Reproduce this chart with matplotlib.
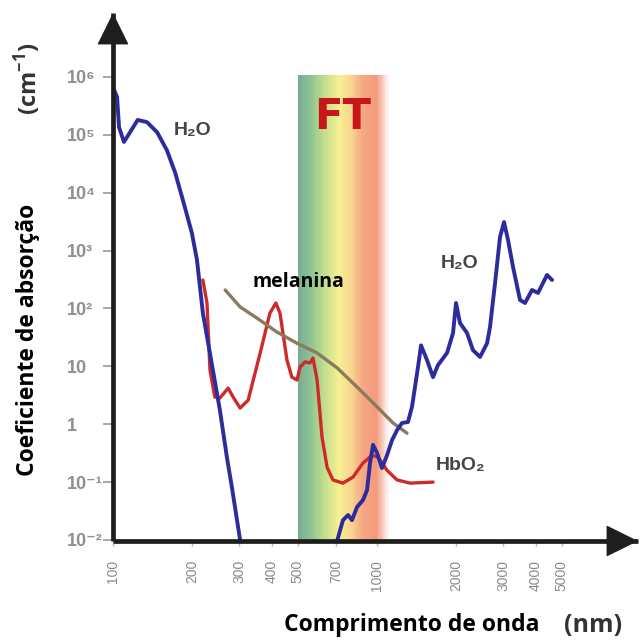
import matplotlib
matplotlib.use('Agg')
import matplotlib.pyplot as plt
import numpy as np
from matplotlib.colors import LinearSegmentedColormap

plt.rcParams['font.family'] = ['Open Sans', 'DejaVu Sans']
plt.rcParams['lines.solid_joinstyle'] = 'round'
plt.rcParams['lines.solid_capstyle'] = 'round'

# water absorption, short wavelengths (nm, cm^-1)
h2o_uv_wl = [100, 103.6, 105.4, 110, 116, 124, 134.5, 147, 160, 172, 184, 199,
             208, 219, 239, 254, 270, 282, 303, 306]
h2o_uv_abs = [6.6e5, 4.5e5, 1.35e5, 7.5e4, 1.1e5, 1.8e5, 1.65e5, 1.1e5, 5.4e4,
              2.2e4, 7.4e3, 2.0e3, 686, 83, 8.6, 1.76, 0.27, 0.082, 0.01, 0.0082]

# water absorption, near / mid infrared
h2o_ir_wl = [699, 743, 777, 804, 840, 885, 917, 941, 966, 1000, 1044, 1091, 1140,
             1191, 1244, 1310, 1357, 1393, 1430, 1468, 1547, 1630, 1702, 1842,
             1941, 1992, 2062, 2193, 2310, 2456, 2611, 2680, 2800, 2924, 3028,
             3135, 3275, 3481, 3636, 3865, 4072, 4405, 4603]
h2o_ir_abs = [0.0082, 0.022, 0.027, 0.022, 0.037, 0.049, 0.073, 0.214, 0.44, 0.32,
              0.175, 0.29, 0.53, 0.79, 1.05, 1.09, 2.0, 4.4, 9.7, 23, 12.8, 6.5,
              10.5, 17, 37.6, 124, 56, 37.6, 19, 14.5, 25, 48, 275, 1710, 3100,
              1520, 519, 140, 124, 208, 185, 378, 310]

# oxyhaemoglobin
hbo2_wl = [219, 227, 233, 243, 254, 273, 285, 303, 325, 361, 393, 414, 429, 456,
           476, 498, 511, 534, 557, 572, 593, 619, 647, 681, 743, 811, 885, 957,
           1009, 1091, 1191, 1334, 1630]
hbo2_abs = [309, 124, 8.6, 2.95, 2.83, 4.2, 2.95, 1.9, 2.6, 17, 83, 124, 83, 12.8,
            6.5, 5.8, 9.7, 11.9, 11.4, 13.9, 5.8, 0.60, 0.18, 0.109, 0.096, 0.122,
            0.214, 0.29, 0.27, 0.16, 0.109, 0.096, 0.10]

# melanin
mel_wl = [266, 303, 351, 418, 498, 593, 706, 840, 1000, 1150, 1299]
mel_abs = [208, 106, 68, 39, 25, 17, 9.4, 4.4, 2.0, 1.05, 0.70]

# phototherapy window
ft_band = (500, 1120)
ft_top = 1.07e6

xtick_vals = [100, 200, 300, 400, 500, 700, 1000, 2000, 3000, 4000, 5000]
ytick_vals = [1e6, 1e5, 1e4, 1e3, 1e2, 10, 1, 0.1, 0.01]
ytick_labels = ['10⁶', '10⁵', '10⁴', '10³', '10²', '10', '1', '10⁻¹', '10⁻²']

fig = plt.figure(figsize=(6.44, 6.41), dpi=100)
ax = fig.add_axes([113 / 644, 100 / 641, 525 / 644, 528 / 641])
ax.set_xscale('log')
ax.set_yscale('log')
ax.set_xlim(100, 9741)
ax.set_ylim(0.00961, 1.265e7)

# gradient band
band_cmap = LinearSegmentedColormap.from_list('ft', [
    (0.0, '#77ab97'), (0.14, '#8fc592'), (0.3, '#c6e08e'), (0.45, '#f8ef92'),
    (0.58, '#f9d690'), (0.7, '#f5a983'), (0.86, '#f3997e'), (1.0, '#ffffff')])
edges = np.geomspace(ft_band[0], ft_band[1], 80)
for i in range(len(edges) - 1):
    ax.fill_between([edges[i], edges[i + 1]], 0.00961, ft_top,
                    color=band_cmap(i / (len(edges) - 2)), lw=0, zorder=1)

ax.plot(hbo2_wl, hbo2_abs, color='#cc2b2b', lw=2.4, zorder=3)
ax.plot(mel_wl, mel_abs, color='#8c7a5e', lw=2.4, zorder=4)
ax.plot(h2o_uv_wl, h2o_uv_abs, color='#2c2c9c', lw=2.8, zorder=5)
ax.plot(h2o_ir_wl, h2o_ir_abs, color='#2c2c9c', lw=2.8, zorder=5)

lab_font = ['Liberation Sans', 'DejaVu Sans']
ax.text(201, 1.16e5, 'H₂O', fontsize=14, fontweight='bold', color='#454545',
        ha='center', va='center', family=lab_font, zorder=6)
ax.text(2047, 608, 'H₂O', fontsize=14, fontweight='bold', color='#454545',
        ha='center', va='center', family=lab_font, zorder=6)
ax.text(2080, 0.19, 'HbO₂', fontsize=14, fontweight='bold', color='#454545',
        ha='center', va='center', family=lab_font, zorder=6)
ax.text(506, 286, 'melanina', fontsize=14, fontweight='bold', color='black',
        ha='center', va='center', zorder=6)
ax.text(743, 2.0e5, 'FT', fontsize=30, fontweight='bold', color='#c8161d',
        ha='center', va='center', family='DejaVu Sans', zorder=6)

# axes with arrow heads
for side in ['top', 'right']:
    ax.spines[side].set_visible(False)
for side in ['left', 'bottom']:
    ax.spines[side].set_linewidth(3.4)
    ax.spines[side].set_color('#1e1e1e')
    ax.spines[side].set_capstyle('butt')
    ax.spines[side].set_zorder(7)
arrow = dict(arrowstyle='-|>,head_length=1.05,head_width=0.52', color='#1e1e1e',
             lw=1, mutation_scale=20, shrinkA=0, shrinkB=0)
ax.annotate('', xy=(0, 1), xytext=(0, 0.95), xycoords='axes fraction',
            arrowprops=arrow, annotation_clip=False)
ax.annotate('', xy=(1, 0), xytext=(0.95, 0), xycoords='axes fraction',
            arrowprops=arrow, annotation_clip=False)

ax.set_xticks(xtick_vals)
ax.set_xticklabels([str(v) for v in xtick_vals], rotation=90,
                   family=lab_font)
ax.set_yticks(ytick_vals)
ax.set_yticklabels(ytick_labels, family=lab_font, fontweight='bold')
ax.minorticks_off()
ax.tick_params(axis='x', length=3.6, width=1, color='#b5b5b5', pad=10,
               labelsize=10, labelcolor='#8a8a8a')
ax.tick_params(axis='y', length=7, width=1.2, color='#9a9a9a', pad=26,
               labelsize=13, labelcolor='#8f8f8f')
for lab in ax.get_yticklabels():
    lab.set_horizontalalignment('left')

fig.text(28 / 644, 1 - 340 / 641, 'Coeficiente de absorção', rotation=90,
         fontsize=16.5, fontweight='bold', color='black', ha='center', va='center')
fig.text(28 / 644, 1 - 79 / 641, '(cm$^{\\mathregular{-1}}$)', rotation=90,
         fontsize=17, fontweight='bold', color='#333333', ha='center', va='center')
fig.text(412 / 644, 1 - 625 / 641, 'Comprimento de onda', fontsize=16.5,
         fontweight='bold', color='black', ha='center', va='center')
fig.text(593 / 644, 1 - 625 / 641, '(nm)', fontsize=18, fontweight='bold',
         color='#333333', ha='center', va='center')

fig.savefig('out.png', dpi=100, facecolor='white')
